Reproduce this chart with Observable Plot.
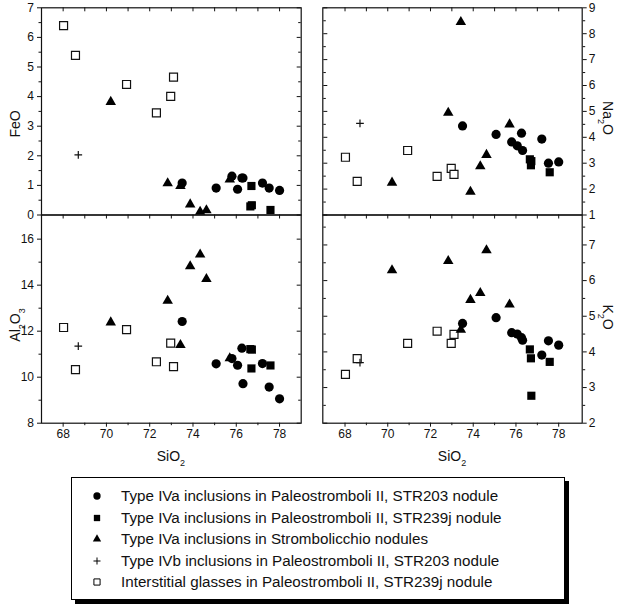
<!DOCTYPE html>
<html><head><meta charset="utf-8">
<script src="https://cdn.jsdelivr.net/npm/d3@7"></script>
<script src="https://cdn.jsdelivr.net/npm/@observablehq/plot@0.6"></script>
<style>
html,body{margin:0;padding:0;background:#fff;}
#wrap{position:relative;width:619px;height:606px;overflow:hidden;font-family:"Liberation Sans",Arial,Helvetica,sans-serif;color:#111;}
#wrap svg{background:transparent !important;overflow:visible;}
.legend{position:absolute;box-sizing:border-box;border:1px solid #000;box-shadow:4px 4px 0 #000;background:#fff;}
.legend .row{position:absolute;height:18px;line-height:18px;font-size:15.2px;white-space:nowrap;}
.legend svg.sym{position:absolute;}
</style></head><body><div id="wrap"></div>
<script>
// ---------- data ----------
const seriesNames = [
  "Type IVa inclusions in Paleostromboli II, STR203 nodule",
  "Type IVa inclusions in Paleostromboli II, STR239j nodule",
  "Type IVa inclusions in Strombolicchio nodules",
  "Type IVb inclusions in Paleostromboli II, STR203 nodule",
  "Interstitial glasses in Paleostromboli II, STR239j nodule"
];

// Type IVa, STR203 (filled circles)
const circSiO2  = [73.50, 75.07, 75.80, 76.06, 76.26, 76.31, 77.21, 77.52, 78.00];
const circFeO   = [1.08, 0.91, 1.31, 0.87, 1.25, 1.25, 1.08, 0.91, 0.83];
const circNa2O  = [4.44, 4.11, 3.82, 3.67, 4.16, 3.49, 3.93, 3.00, 3.05];
const circAl2O3 = [12.42, 10.58, 10.81, 10.52, 11.26, 9.72, 10.59, 9.57, 9.06];
const circK2O   = [4.80, 4.96, 4.54, 4.50, 4.40, 4.33, 3.91, 4.31, 4.19];

// Type IVa, STR239j (filled squares)
const sqSiO2  = [76.65, 76.70, 76.72, 77.58];
const sqFeO   = [0.29, 0.98, 0.33, 0.17];
const sqNa2O  = [3.15, 2.92, 3.08, 2.65];
const sqAl2O3 = [11.22, 10.38, 11.20, 10.51];
const sqK2O   = [4.07, 3.82, 2.77, 3.72];

// Type IVa, Strombolicchio (filled triangles)
const triSiO2  = [70.20, 72.83, 73.42, 73.87, 74.33, 74.62, 75.70];
const triFeO   = [3.82, 1.07, 0.98, 0.36, 0.11, 0.16, 1.20];
const triNa2O  = [2.25, 4.95, 8.45, 1.90, 2.88, 3.32, 4.50];
const triAl2O3 = [12.38, 13.32, 11.40, 14.82, 15.33, 14.27, 10.82];
const triK2O   = [6.29, 6.55, 4.62, 5.46, 5.65, 6.85, 5.33];

// Type IVb, STR203 (plus)
const plusSiO2  = [68.70];
const plusFeO   = [2.03];
const plusNa2O  = [4.54];
const plusAl2O3 = [11.35];
const plusK2O   = [3.70];

// Interstitial glasses, STR239j (open squares)
const glsSiO2  = [68.02, 68.57, 70.93, 72.31, 72.97, 73.10];
const glsFeO   = [6.40, 5.39, 4.41, 3.45, 4.01, 4.66];
const glsNa2O  = [3.23, 2.30, 3.49, 2.49, 2.80, 2.57];
const glsAl2O3 = [12.16, 10.33, 12.07, 10.67, 11.48, 10.46];
const glsK2O   = [3.37, 3.81, 4.24, 4.58, 4.24, 4.49];

// tick labels
const sio2Ticks  = [68, 70, 72, 74, 76, 78];
const feoTicks   = [0, 1, 2, 3, 4, 5, 6, 7];
const na2oTicks  = [1, 2, 3, 4, 5, 6, 7, 8, 9];
const al2o3Ticks = [8, 10, 12, 14, 16];
const k2oTicks   = [2, 3, 4, 5, 6, 7];

// ---------- build table ----------
function rows(series, si, fe, na, al, k) {
  return si.map((v, i) => ({series, SiO2: v, FeO: fe[i], Na2O: na[i], Al2O3: al[i], K2O: k[i]}));
}
const tri  = rows(seriesNames[2], triSiO2, triFeO, triNa2O, triAl2O3, triK2O);
const circ = rows(seriesNames[0], circSiO2, circFeO, circNa2O, circAl2O3, circK2O);
const sq   = rows(seriesNames[1], sqSiO2, sqFeO, sqNa2O, sqAl2O3, sqK2O);
const plus = rows(seriesNames[3], plusSiO2, plusFeO, plusNa2O, plusAl2O3, plusK2O);
const gls  = rows(seriesNames[4], glsSiO2, glsFeO, glsNa2O, glsAl2O3, glsK2O);

const FONT = '"Liberation Sans", Arial, Helvetica, sans-serif';
const INK = "#111";
const wrap = document.getElementById("wrap");

function halfSteps(a, b, step) { const out = []; for (let v = a; v <= b + 1e-9; v += step) out.push(+v.toFixed(3)); return out; }

function panel(o) {
  const xInts = d3.range(68, 79);
  const xOdd = [69, 71, 73, 75, 77];
  const yMinor = o.yMinor;
  const outward = o.side;
  const inwardFrame = o.side === "left" ? "right" : "left";
  const marks = [
    Plot.axisY(o.yTicks, {anchor: outward, tickSize: 4, tickPadding: o.side === "left" ? 3.5 : 2.5, fontSize: 12, label: null, stroke: INK, fill: INK}),
    Plot.axisY(yMinor, {anchor: outward, tickSize: 2.5, fill: "none", label: null, stroke: INK}),
    Plot.axisY(o.yTicks, {anchor: outward, frameAnchor: inwardFrame, tickSize: 4, fill: "none", label: null, stroke: INK}),
    Plot.axisY(yMinor, {anchor: outward, frameAnchor: inwardFrame, tickSize: 2.5, fill: "none", label: null, stroke: INK}),
  ];
  if (o.bottomLabels) {
    marks.push(Plot.axisX(sio2Ticks, {anchor: "bottom", tickSize: 4, tickPadding: 2, fontSize: 12, label: null, stroke: INK, fill: INK}));
    marks.push(Plot.axisX(xOdd, {anchor: "bottom", tickSize: 2.5, fill: "none", label: null, stroke: INK}));
  } else {
    marks.push(Plot.axisX(xInts, {anchor: "bottom", tickSize: 4, fill: "none", label: null, stroke: INK}));
    marks.push(Plot.axisX(xInts, {anchor: "bottom", frameAnchor: "top", tickSize: 4, fill: "none", label: null, stroke: INK}));
  }
  marks.push(Plot.frame({stroke: INK, strokeWidth: 1.2}));
  const y = o.yKey;
  marks.push(
    Plot.dot(gls,  {x: "SiO2", y, symbol: "square", r: 4.5, fill: "#fff", stroke: INK, strokeWidth: 1.2}),
    Plot.dot(plus, {x: "SiO2", y, symbol: "plus", r: 2.6, fill: "none", stroke: INK, strokeWidth: 1.2}),
    Plot.dot(tri,  {x: "SiO2", y, symbol: "triangle", r: 3.9, fill: "#000", stroke: "none"}),
    Plot.dot(circ, {x: "SiO2", y, symbol: "circle", r: 4.6, fill: "#000", stroke: "none"}),
    Plot.dot(sq,   {x: "SiO2", y, symbol: "square", r: 4.6, fill: "#000", stroke: "none"})
  );
  const svg = Plot.plot({
    width: o.width, height: o.height,
    marginLeft: o.mL, marginRight: o.mR, marginTop: o.mT, marginBottom: o.mB,
    style: {fontFamily: FONT, fontSize: "12px", background: "transparent", color: INK, overflow: "visible"},
    x: {domain: o.xDomain},
    y: {domain: o.yDomain},
    marks
  });
  svg.style.position = "absolute";
  svg.style.left = o.left + "px";
  svg.style.top = o.top + "px";
  wrap.appendChild(svg);
}

const LX0 = 41, LX1 = 300.7, RX0 = 322.3, RX1 = 581.7, TY0 = 7.3, MY = 214.5, BY1 = 422.7;
const leftDomain = [67, 79], rightDomain = [66.96, 79.1];

panel({left: 0, top: 0, width: 311, height: 225, mL: LX0, mR: 311 - LX1, mT: TY0, mB: 225 - MY,
  xDomain: leftDomain, yKey: "FeO", yDomain: [0, 7], yTicks: feoTicks, yMinor: halfSteps(0.5, 6.5, 1), side: "left", bottomLabels: false});
panel({left: 311, top: 0, width: 308, height: 225, mL: RX0 - 311, mR: 619 - RX1, mT: TY0, mB: 225 - MY,
  xDomain: rightDomain, yKey: "Na2O", yDomain: [1, 9], yTicks: na2oTicks, yMinor: halfSteps(1.5, 8.5, 1), side: "right", bottomLabels: false});
panel({left: 0, top: 205, width: 311, height: 245, mL: LX0, mR: 311 - LX1, mT: MY - 205, mB: 450 - BY1,
  xDomain: leftDomain, yKey: "Al2O3", yDomain: [8, 17.05], yTicks: al2o3Ticks, yMinor: [9, 11, 13, 15], side: "left", bottomLabels: true});
panel({left: 311, top: 205, width: 308, height: 245, mL: RX0 - 311, mR: 619 - RX1, mT: MY - 205, mB: 450 - BY1,
  xDomain: rightDomain, yKey: "K2O", yDomain: [2, 7.84], yTicks: k2oTicks, yMinor: halfSteps(2.5, 7.5, 1), side: "right", bottomLabels: true});

// ---------- axis titles ----------
const ov = d3.select(wrap).append("svg")
  .attr("width", 619).attr("height", 470)
  .style("position", "absolute").style("left", "0px").style("top", "0px")
  .style("pointer-events", "none")
  .attr("font-family", FONT).attr("font-size", 14).attr("fill", INK);

function chemLabel(sel, parts) {
  parts.forEach(([t, sub]) => {
    const ts = sel.append("tspan").text(t);
    if (sub) ts.attr("font-size", 9).attr("baseline-shift", "sub");
  });
}
function title(x, y, rot, parts) {
  const t = ov.append("text").attr("text-anchor", "middle").attr("dy", "0.35em")
    .attr("transform", `translate(${x},${y}) rotate(${rot})`);
  chemLabel(t, parts);
}
title(15, 124, -90, [["FeO", false]]);
title(15, 325, -90, [["Al", false], ["2", true], ["O", false], ["3", true]]);
title(608, 118, 90, [["Na", false], ["2", true], ["O", false]]);
title(608, 317, 90, [["K", false], ["2", true], ["O", false]]);
title((LX0 + LX1) / 2, 456, 0, [["SiO", false], ["2", true]]);
title((RX0 + RX1) / 2, 456, 0, [["SiO", false], ["2", true]]);

// ---------- legend ----------
const leg = document.createElement("div");
leg.className = "legend";
Object.assign(leg.style, {left: "71px", top: "476.5px", width: "494px", height: "123px"});
wrap.appendChild(leg);
const legSymbols = [
  {type: d3.symbolCircle, size: 42, fill: "#000", stroke: "none"},
  {type: d3.symbolSquare, size: 40, fill: "#000", stroke: "none"},
  {type: d3.symbolTriangle, size: 30, fill: "#000", stroke: "none"},
  {type: d3.symbolPlus, size: 18, fill: "none", stroke: "#000"},
  {type: d3.symbolSquare, size: 38, fill: "#fff", stroke: "#000"}
];
seriesNames.forEach((name, i) => {
  const yc = 18.5 + 21.5 * i;
  const s = legSymbols[i];
  const sv = d3.select(leg).append("svg").attr("class", "sym")
    .attr("width", 14).attr("height", 14)
    .style("left", (24.7 - 7) + "px").style("top", (yc - 7) + "px");
  sv.append("path").attr("transform", "translate(7,7)")
    .attr("d", d3.symbol(s.type, s.size)())
    .attr("fill", s.fill).attr("stroke", s.stroke).attr("stroke-width", 1);
  const r = document.createElement("div");
  r.className = "row";
  r.style.left = "49px";
  r.style.top = (yc - 9) + "px";
  r.textContent = name;
  leg.appendChild(r);
});
</script></body></html>
